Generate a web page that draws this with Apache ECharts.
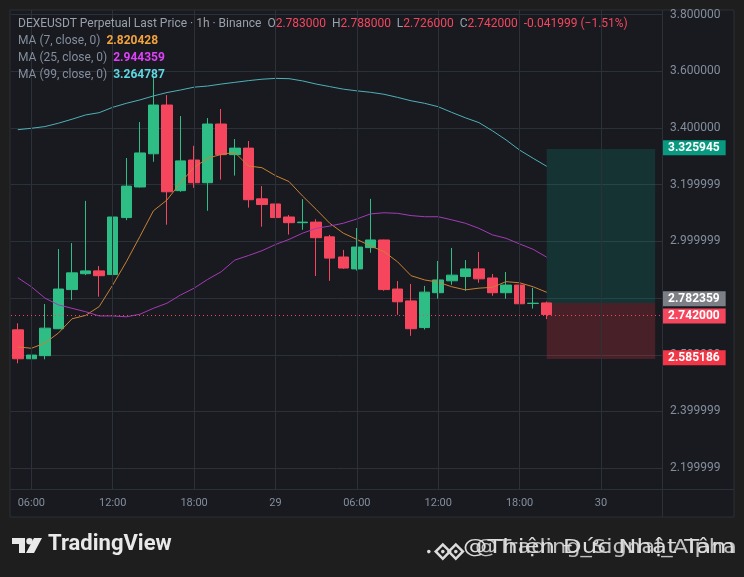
<!DOCTYPE html>
<html><head><meta charset="utf-8">
<script src="https://cdn.jsdelivr.net/npm/echarts@6/dist/echarts.min.js"></script>
<style>html,body{margin:0;padding:0;background:#1e1e1e;}#c{width:744px;height:577px;}</style>
</head><body><div id="c"></div>
<script>
// ---- data ----
const slotCount = 48; // hourly slots visible on the time axis (40 candles + empty space)
const xTickIndex = [1, 7, 13, 19, 25, 31, 37, 43];
const xTickText = ['06:00', '12:00', '18:00', '29', '06:00', '12:00', '18:00', '30'];

const openP  = [2.688,2.586,2.597,2.692,2.830,2.886,2.896,2.883,3.084,3.192,3.309,3.481,3.179,3.287,3.207,3.414,3.306,3.329,3.150,3.132,3.086,3.066,3.068,3.016,2.945,2.903,2.978,3.005,2.832,2.790,2.696,2.819,2.861,2.876,2.903,2.871,2.819,2.846,2.781,2.783];
const closeP = [2.586,2.599,2.694,2.832,2.889,2.896,2.879,3.086,3.195,3.312,3.481,3.175,3.284,3.207,3.414,3.306,3.329,3.147,3.130,3.084,3.066,3.068,3.013,2.941,2.906,2.980,3.005,2.830,2.787,2.692,2.821,2.864,2.881,2.903,2.868,2.819,2.846,2.780,2.782,2.742];
const lowP   = [2.570,2.579,2.584,2.691,2.793,2.881,2.805,2.840,3.075,3.190,3.281,3.059,3.175,3.189,3.108,3.218,3.232,3.119,3.052,3.017,3.024,3.041,2.878,2.861,2.903,2.897,2.960,2.826,2.741,2.667,2.689,2.798,2.847,2.826,2.854,2.808,2.798,2.752,2.763,2.726];
const highP  = [2.711,2.709,2.779,2.973,2.994,3.143,2.913,3.129,3.294,3.421,3.583,3.516,3.442,3.337,3.435,3.467,3.361,3.354,3.195,3.192,3.093,3.149,3.078,3.023,2.970,3.047,3.150,3.006,2.860,2.850,2.843,2.931,2.977,2.934,2.963,2.885,2.892,2.874,2.836,2.788];

const ma7  = [2.628,2.623,2.641,2.677,2.727,2.739,2.770,2.846,2.928,3.017,3.108,3.146,3.207,3.261,3.293,3.307,3.314,3.266,3.260,3.232,3.211,3.160,3.113,3.064,3.029,3.007,2.984,2.964,2.928,2.879,2.864,2.856,2.840,2.829,2.835,2.838,2.858,2.854,2.840,2.820428];
const ma25 = [2.872,2.840,2.800,2.776,2.764,2.752,2.737,2.737,2.734,2.743,2.764,2.782,2.811,2.835,2.866,2.893,2.934,2.950,2.967,2.989,3.007,3.029,3.046,3.054,3.064,3.079,3.097,3.101,3.099,3.091,3.087,3.087,3.076,3.064,3.046,3.023,3.011,2.991,2.972,2.944359];
const ma99 = [3.394,3.399,3.405,3.417,3.431,3.446,3.454,3.473,3.487,3.499,3.513,3.525,3.534,3.544,3.548,3.555,3.561,3.567,3.572,3.575,3.574,3.566,3.555,3.546,3.537,3.531,3.526,3.519,3.508,3.496,3.487,3.475,3.455,3.436,3.419,3.390,3.358,3.322,3.293,3.264787];

const yTickValues = [2.2, 2.4, 2.6, 2.8, 3.0, 3.2, 3.4, 3.6, 3.8];
const yTickText = ['2.199999','2.399999','2.599999','2.799999','2.999999','3.199999','3.400000','3.600000','3.800000'];
const yMin = 2.1266, yMax = 3.8162;

const lastPrice = 2.742;
const entryPrice = 2.782359, takeProfit = 3.325945, stopLoss = 2.585186;
const positionStart = 39, positionEnd = 47;

const titleText = 'DEXEUSDT Perpetual Last Price · 1h · Binance';
const ohlcText = [['O','2.783000'],['H','2.788000'],['L','2.726000'],['C','2.742000']];
const changeText = '-0.041999 (−1.51%)';
const maNames = ['MA (7, close, 0)', 'MA (25, close, 0)', 'MA (99, close, 0)'];
const maValues = ['2.820428', '2.944359', '3.264787'];

// ---- colours ----
const UP = '#2ebd85', DOWN = '#f6465d', GRID = '#2b3139', AXT = '#848e9c';
const MA_LINE = ['#c98134', '#a33bb5', '#4fb0b8'];
const MA_TXT = ['#f3a33c', '#e040fb', '#5fd8e4'];

const cats = Array.from({length: slotCount}, (_, i) => String(i));
const candles = openP.map((o, i) => [o, closeP[i], lowP[i], highP[i]]);
const FONT = 'Roboto, "Noto Sans", sans-serif';

const chart = echarts.init(document.getElementById('c'));

const priceLabel = (v, bg, extra) => Object.assign({
  show: true, position: 'end', distance: 1,
  formatter: v.toFixed(6), color: '#ffffff', backgroundColor: bg,
  padding: [2, 6, 1, 5], fontSize: 12, fontFamily: FONT, fontWeight: 'bold'
}, extra || {});
const HIDDEN_LINE = {width: 0, color: 'rgba(0,0,0,0)'};

let rich = {g: {fill: '#9aa0aa', fontSize: 12, fontFamily: FONT}, r: {fill: DOWN, fontSize: 12, fontFamily: FONT}};
let titleStr = '{g|' + titleText + '  }';
ohlcText.forEach(([k, v]) => { titleStr += '{g|' + k + '}{r|' + v + '}{g|  }'; });
titleStr += '{r|' + changeText + '}';

const maLegendEls = maNames.map((n, i) => ({
  type: 'text', left: 18, top: 35 + i * 17,
  style: {
    text: '{g|' + n + '}{g|  }{v|' + maValues[i] + '}',
    rich: {g: {fill: '#848e9c', fontSize: 12, fontFamily: FONT}, v: {fill: MA_TXT[i], fontSize: 12, fontFamily: FONT, fontWeight: 'bold'}}
  }, z: 100
}));

chart.setOption({
  backgroundColor: '#1e1e1e',
  animation: false,
  grid: {left: 11, right: 82, top: 10, bottom: 88},
  xAxis: {
    type: 'category', data: cats, boundaryGap: true,
    axisLine: {show: false}, axisTick: {show: false}, splitLine: {show: false},
    axisLabel: {
      interval: (i) => xTickIndex.indexOf(i) >= 0,
      formatter: (v, i) => { const k = xTickIndex.indexOf(i); return k >= 0 ? xTickText[k] : ''; },
      color: AXT, fontSize: 11, fontFamily: FONT, margin: 9
    }
  },
  yAxis: {
    type: 'value', position: 'right', min: yMin, max: yMax, scale: true,
    axisLine: {show: false}, axisTick: {show: false, customValues: yTickValues},
    splitLine: {show: true, lineStyle: {color: GRID, width: 1}},
    axisLabel: {
      customValues: yTickValues,
      formatter: (v) => { let k = -1; yTickValues.forEach((t, j) => { if (Math.abs(t - v) < 1e-6) k = j; }); return k >= 0 ? yTickText[k] : ''; },
      color: AXT, fontSize: 12, fontFamily: FONT, margin: 8
    }
  },
  graphic: [
    {type: 'rect', shape: {x: 10, y: 10, width: 724, height: 507}, style: {fill: '#181a20', stroke: '#2b2f36', lineWidth: 1}, z: -10, silent: true},
    {type: 'line', shape: {x1: 10, y1: 489.5, x2: 734, y2: 489.5}, style: {stroke: GRID, lineWidth: 1}, z: 1, silent: true},
    {type: 'line', shape: {x1: 662.5, y1: 10, x2: 662.5, y2: 517}, style: {stroke: GRID, lineWidth: 1}, z: 1, silent: true},
    {type: 'text', left: 18, top: 18, style: {text: titleStr, rich: rich}, z: 100},
    ...maLegendEls,
    // TradingView logo
    {type: 'group', left: 12, top: 538, z: 100, children: [
      {type: 'rect', shape: {x: 0, y: 0, width: 13, height: 6}, style: {fill: '#e9e9e9'}},
      {type: 'rect', shape: {x: 7, y: 0, width: 6, height: 15}, style: {fill: '#e9e9e9'}},
      {type: 'circle', shape: {cx: 17.5, cy: 3.2, r: 3.2}, style: {fill: '#e9e9e9'}},
      {type: 'polygon', shape: {points: [[22, 0], [30, 0], [22, 15], [14, 15]]}, style: {fill: '#e9e9e9'}}
    ]},
    {type: 'text', left: 48, top: 533, style: {text: 'TradingView', fill: '#e9e9e9', fontSize: 22, fontWeight: 'bold', fontFamily: FONT}, z: 100},
    // watermark (two overlapping signatures)
    {type: 'group', left: 427, top: 541, z: 100, children: [
      {type: 'rect', shape: {x: -5, y: -5, width: 10, height: 10}, rotation: Math.PI / 4, x: 16, y: 9, style: {fill: 'none', stroke: '#dcdcdc', lineWidth: 2.5}},
      {type: 'rect', shape: {x: -5, y: -5, width: 10, height: 10}, rotation: Math.PI / 4, x: 29, y: 9, style: {fill: 'none', stroke: '#dcdcdc', lineWidth: 2.5}},
      {type: 'circle', shape: {cx: 2, cy: 9, r: 1.8}, style: {fill: '#dcdcdc'}},
      {type: 'circle', shape: {cx: 16, cy: 9, r: 1.8}, style: {fill: '#dcdcdc'}},
      {type: 'circle', shape: {cx: 29, cy: 9, r: 1.8}, style: {fill: '#dcdcdc'}}
    ]},
    {type: 'text', x: 463, y: 538, scaleX: 1.22, style: {text: '@Thiện Đức Nhật Tâm', fill: '#dcdcdc', fontSize: 20, fontFamily: '"DejaVu Sans", sans-serif'}, z: 100},
    {type: 'text', x: 475, y: 539, scaleX: 1.19, style: {text: '@Trading_Signal_Alpha', fill: '#dcdcdc', fontSize: 19, fontFamily: '"DejaVu Sans", sans-serif', opacity: 0.85}, z: 100}
  ],
  series: [
    {
      name: 'grid', type: 'line', data: cats.map(() => null), z: 1, silent: true,
      markLine: {
        silent: true, symbol: ['none', 'none'], animation: false,
        label: {show: false},
        lineStyle: {color: GRID, type: 'solid', width: 1},
        data: xTickIndex.map(i => ({xAxis: cats[i]}))
      }
    },
    {
      name: 'DEXEUSDT', type: 'candlestick', data: candles, barWidth: 11, z: 3,
      itemStyle: {color: UP, color0: DOWN, borderColor: UP, borderColor0: DOWN, borderWidth: 1},
      markArea: {
        silent: true,
        data: [
          [{xAxis: cats[positionStart], yAxis: entryPrice, itemStyle: {color: 'rgba(8,153,129,0.2)'}}, {xAxis: cats[positionEnd], yAxis: takeProfit}],
          [{xAxis: cats[positionStart], yAxis: stopLoss, itemStyle: {color: 'rgba(242,54,69,0.22)'}}, {xAxis: cats[positionEnd], yAxis: entryPrice}]
        ]
      },
      markLine: {
        silent: true, symbol: ['none', 'none'], animation: false,
        data: [
          {yAxis: takeProfit, lineStyle: HIDDEN_LINE, label: priceLabel(takeProfit, '#089981')},
          {yAxis: stopLoss, lineStyle: HIDDEN_LINE, label: priceLabel(stopLoss, '#f23645')},
          {yAxis: entryPrice, lineStyle: HIDDEN_LINE, label: priceLabel(entryPrice, '#7c7f86', {offset: [0, -5]})},
          {yAxis: lastPrice, lineStyle: {color: DOWN, type: [1, 3], width: 1}, label: priceLabel(lastPrice, '#f6465d', {offset: [0, 1]})}
        ]
      }
    },
    {name: 'MA7', type: 'line', data: ma7, symbol: 'none', z: 4, lineStyle: {color: MA_LINE[0], width: 1}},
    {name: 'MA25', type: 'line', data: ma25, symbol: 'none', z: 4, lineStyle: {color: MA_LINE[1], width: 1}},
    {name: 'MA99', type: 'line', data: ma99, symbol: 'none', z: 4, lineStyle: {color: MA_LINE[2], width: 1}}
  ]
});
</script>
</body></html>
